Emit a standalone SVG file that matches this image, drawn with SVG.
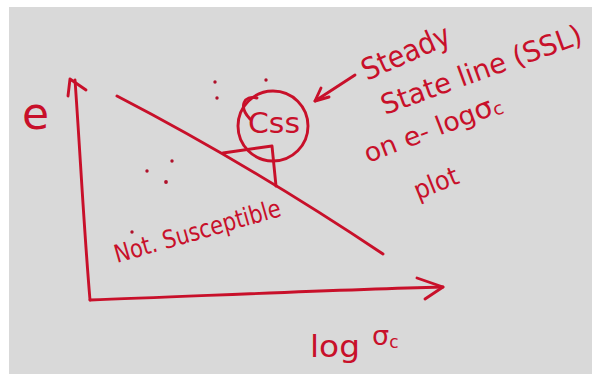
<svg xmlns="http://www.w3.org/2000/svg" width="592" height="374" viewBox="0 0 592 374">
<style>
.ink{fill:none;stroke:#c8102a;stroke-width:2.9;stroke-linecap:round;stroke-linejoin:round}
.t{fill:#c8102a;font-family:"DejaVu Sans","Liberation Sans",sans-serif}
.dot{fill:#b0102a}
</style>
<rect x="0" y="0" width="592" height="374" fill="#ffffff"/>
<rect x="9" y="7" width="583" height="367" fill="#d9d9d9"/>
<g id="axes">
<path class="ink" d="M90,300 C84,230 80,150 75,80"/>
<polyline class="ink" points="68,96 70,79 86,90"/>
<path class="ink" d="M90,300 C200,296 330,290 443,287"/>
<polyline class="ink" points="417,278 443,287 425,299"/>
</g>
<g id="ssl-line">
<path class="ink" d="M117,96 Q250,165 383,254"/>
</g>
<g id="css-node">
<circle class="ink" cx="273" cy="126" r="35"/>
<path class="ink" stroke-width="2" d="M250,119 C238,106 244,95 257,98"/>
<text class="t" x="248" y="133" font-size="28" textLength="52" lengthAdjust="spacingAndGlyphs">Css</text>
<polyline class="ink" points="223,153 272,146 276,186"/>
</g>
<g id="dots">
<circle class="dot" cx="215" cy="82" r="1.7"/>
<circle class="dot" cx="266" cy="80" r="1.7"/>
<circle class="dot" cx="217" cy="98" r="1.7"/>
<circle class="dot" cx="172" cy="161" r="1.7"/>
<circle class="dot" cx="147" cy="171" r="1.7"/>
<circle class="dot" cx="166" cy="182" r="1.9"/>
<circle class="dot" cx="132" cy="232" r="1.7"/>
</g>
<g id="labels">
<text class="t" x="22" y="129" font-size="44">e</text>
<text class="t" font-size="25" transform="translate(117,263) rotate(-16)" textLength="172" lengthAdjust="spacingAndGlyphs">Not. Susceptible</text>
<text class="t" x="310" y="357" font-size="31" textLength="50" lengthAdjust="spacingAndGlyphs">log</text>
<text class="t" x="372" y="345" font-size="27">σ<tspan font-size="17" dy="3">c</tspan></text>
</g>
<g id="annotation">
<line class="ink" x1="355" y1="75" x2="315" y2="101"/>
<polyline class="ink" points="321,88 315,101 329,97"/>
<text class="t" font-size="30" transform="translate(367,81) rotate(-24)" textLength="94" lengthAdjust="spacingAndGlyphs">Steady</text>
<text class="t" font-size="28" transform="translate(385,115) rotate(-20)" textLength="212" lengthAdjust="spacingAndGlyphs">State line (SSL)</text>
<text class="t" font-size="26" transform="translate(368,163) rotate(-21)" textLength="146" lengthAdjust="spacingAndGlyphs">on e- log<tspan font-size="28">σ</tspan><tspan font-size="18" dy="2">c</tspan></text>
<text class="t" font-size="26" transform="translate(418,200) rotate(-22)" textLength="46" lengthAdjust="spacingAndGlyphs">plot</text>
</g>
</svg>
